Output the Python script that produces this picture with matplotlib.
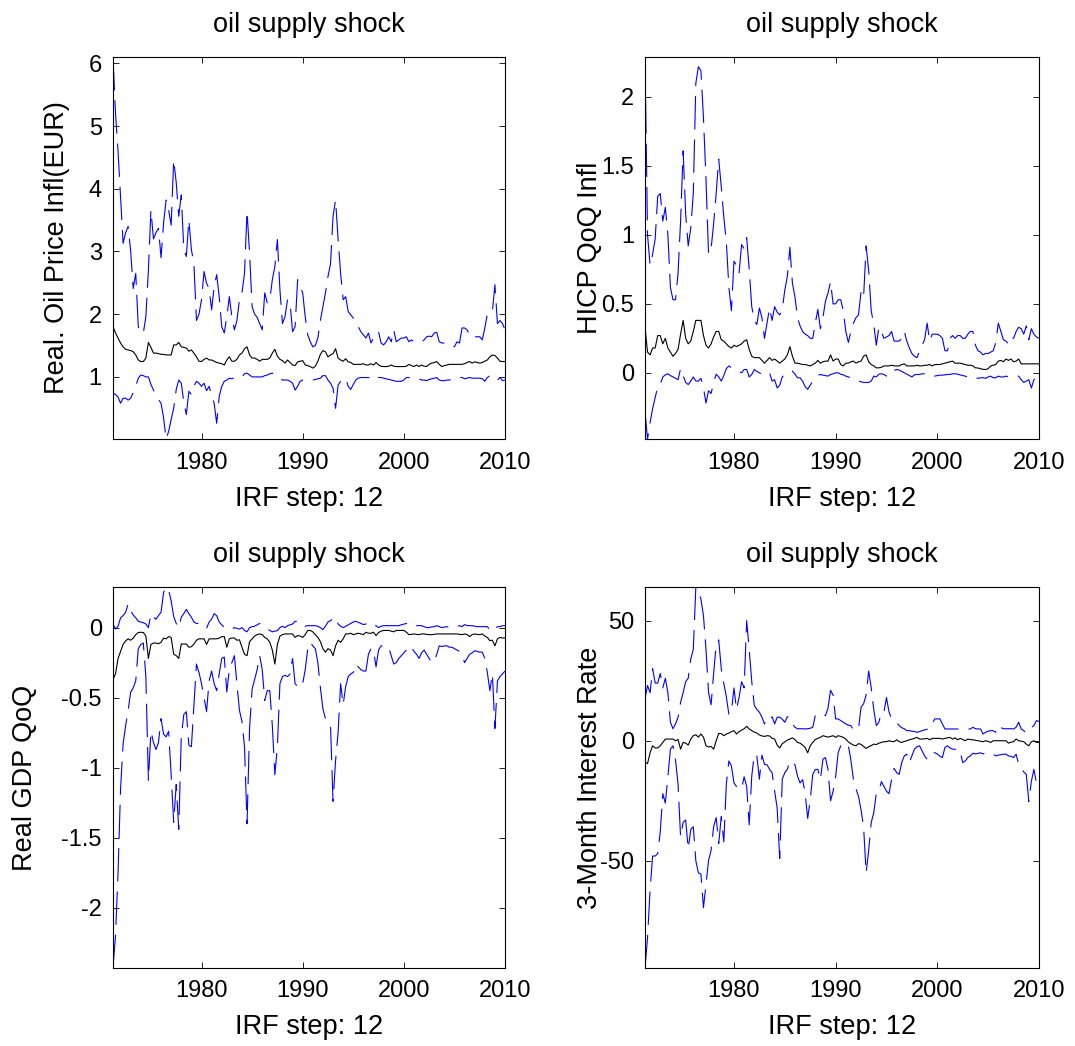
import numpy as np
import matplotlib
matplotlib.use("Agg")
import matplotlib.pyplot as plt

plt.rcParams['font.family'] = ['Liberation Sans', 'DejaVu Sans']

# quarterly dates 1971Q2 .. 2010Q1
start_year = 1971.25
n_quarters = 156
dates = start_year + 0.25 * np.arange(n_quarters)

panel_title = "oil supply shock"
x_label = "IRF step: 12"
x_ticks = [1980, 1990, 2000, 2010]

# ---------------- Panel 1: Real. Oil Price Infl(EUR) ----------------
oil_label = "Real. Oil Price Infl(EUR)"
oil_yticks = [1, 2, 3, 4, 5, 6]
oil_upper = [6.10, 5.2, 4.6, 3.88, 3.13, 3.3, 3.4, 3.0, 2.41, 2.65,
             1.8, 1.7, 1.7, 1.96, 2.7, 3.66, 3.2, 3.3, 3.37, 2.9,
             3.45, 3.82, 3.66, 3.42, 4.46, 4.1, 3.56, 3.9, 3.03, 2.92,
             3.5, 3.03, 2.8, 1.9, 2.0, 2.23, 2.68, 2.49, 2.41, 2.07,
             2.44, 2.63, 2.28, 1.8, 1.7, 1.96, 2.28, 1.96, 1.75, 1.9,
             2.23, 2.34, 2.65, 3.64, 2.97, 2.12, 2.0, 1.95, 1.85, 1.75,
             2.34, 2.18, 2.23, 2.55, 2.76, 3.19, 2.39, 1.85, 1.96, 2.23,
             2.18, 1.72, 1.8, 2.55, 2.44, 2.34, 1.96, 1.67, 1.56, 1.48,
             1.5, 1.62, 1.9, 2.12, 2.34, 2.6, 2.8, 3.56, 3.82, 3.19,
             2.65, 2.23, 2.28, 2.04, 1.99, 1.94, 1.88, 1.8, 1.72, 1.67,
             1.62, 1.7, 1.54, 1.62, 1.7, 1.72, 1.54, 1.51, 1.56, 1.64,
             1.56, 1.75, 1.56, 1.59, 1.62, 1.62, 1.64, 1.56, 1.59, 1.56,
             1.56, 1.56, 1.56, 1.59, 1.64, 1.65, 1.64, 1.7, 1.71, 1.56,
             1.54, 1.54, 1.54, 1.53, 1.51, 1.48, 1.56, 1.54, 1.78, 1.78,
             1.75, 1.67, 1.62, 1.64, 1.64, 1.64, 1.59, 1.78, 2.0, 2.0,
             2.04, 2.47, 1.85, 1.9, 1.85, 1.75]
oil_median = [1.80, 1.70, 1.62, 1.54, 1.48, 1.44, 1.43, 1.42, 1.40, 1.35,
              1.27, 1.245, 1.245, 1.30, 1.55, 1.47, 1.38, 1.38, 1.37, 1.36,
              1.36, 1.35, 1.35, 1.35, 1.51, 1.51, 1.55, 1.48, 1.47, 1.46,
              1.41, 1.43, 1.38, 1.32, 1.25, 1.245, 1.28, 1.30, 1.27, 1.27,
              1.25, 1.23, 1.22, 1.21, 1.19, 1.27, 1.32, 1.25, 1.25, 1.28,
              1.35, 1.38, 1.45, 1.48, 1.35, 1.30, 1.30, 1.28, 1.25, 1.28,
              1.28, 1.28, 1.30, 1.38, 1.44, 1.33, 1.28, 1.26, 1.22, 1.27,
              1.23, 1.19, 1.18, 1.24, 1.25, 1.26, 1.19, 1.18, 1.165, 1.14,
              1.17, 1.25, 1.36, 1.42, 1.40, 1.32, 1.35, 1.37, 1.45, 1.30,
              1.27, 1.25, 1.29, 1.24, 1.23, 1.20, 1.20, 1.20, 1.20, 1.21,
              1.19, 1.19, 1.21, 1.19, 1.23, 1.19, 1.17, 1.165, 1.165, 1.17,
              1.19, 1.17, 1.165, 1.165, 1.165, 1.165, 1.17, 1.20, 1.18, 1.165,
              1.19, 1.165, 1.19, 1.17, 1.165, 1.20, 1.22, 1.23, 1.245, 1.20,
              1.165, 1.18, 1.19, 1.20, 1.20, 1.20, 1.20, 1.20, 1.20, 1.21,
              1.23, 1.245, 1.22, 1.24, 1.23, 1.22, 1.23, 1.25, 1.27, 1.32,
              1.35, 1.34, 1.30, 1.25, 1.245, 1.245]
oil_lower = [0.74, 0.72, 0.68, 0.58, 0.66, 0.66, 0.63, 0.66, 0.75, 0.85,
             0.98, 1.03, 1.02, 1.0, 1.0, 0.88, 0.79, 0.72, 0.64, 0.58,
             0.35, 0.01, 0.13, 0.32, 0.5, 0.8, 0.95, 0.9, 0.6, 0.4,
             0.77, 0.72, 0.85, 0.93, 0.9, 0.85, 0.9, 0.78, 0.85, 0.71,
             0.58, 0.26, 0.69, 0.85, 0.93, 0.95, 0.98, 0.97, 0.99, 1.0,
             1.0, 1.0, 1.05, 1.06, 1.03, 1.0, 1.0, 1.0, 1.0, 1.0,
             1.02, 1.03, 1.05, 1.06, 1.04, 1.02, 0.98, 0.95, 0.95, 0.95,
             0.93, 0.90, 0.79, 0.85, 0.93, 0.95, 0.96, 0.96, 0.95, 0.95,
             0.96, 0.97, 0.98, 1.02, 1.02, 0.95, 0.90, 0.82, 0.5, 0.87,
             0.93, 0.96, 0.98, 0.85, 0.80, 0.88, 0.95, 0.98, 0.99, 0.99,
             0.99, 0.99, 0.99, 0.99, 1.02, 0.99, 0.99, 0.98, 0.97, 0.96,
             0.95, 0.94, 0.93, 0.93, 0.93, 0.95, 0.99, 0.99, 0.99, 0.98,
             0.98, 0.97, 0.95, 0.95, 0.94, 0.96, 0.97, 0.98, 0.99, 0.95,
             0.94, 0.94, 0.95, 0.95, 0.97, 0.98, 0.99, 0.99, 0.99, 0.97,
             0.98, 0.99, 0.98, 0.98, 0.98, 0.98, 0.97, 0.93, 0.99, 1.02,
             1.01, 1.0, 0.95, 0.99, 0.94, 0.95]

# ---------------- Panel 2: HICP QoQ Infl ----------------
hicp_label = "HICP QoQ Infl"
hicp_yticks = [0, 0.5, 1, 1.5, 2]
hicp_upper = [2.29, 1.0, 0.78, 0.86, 0.97, 1.28, 1.30, 1.10, 1.20, 1.0,
              0.62, 0.53, 0.53, 0.72, 1.1, 1.61, 1.15, 0.92, 1.05, 1.3,
              2.1, 2.22, 2.19, 1.85, 1.4, 0.86, 0.9, 1.08, 1.3, 1.55,
              1.35, 1.13, 0.95, 0.62, 0.45, 0.81, 0.78, 0.72, 0.93, 0.9,
              0.98, 0.75, 0.48, 0.38, 0.35, 0.47, 0.40, 0.25, 0.36, 0.47,
              0.38, 0.48, 0.44, 0.42, 0.46, 0.6, 0.7, 0.91, 0.65, 0.55,
              0.40, 0.34, 0.30, 0.28, 0.27, 0.25, 0.25, 0.36, 0.46, 0.32,
              0.40, 0.52, 0.58, 0.66, 0.5, 0.5, 0.53, 0.53, 0.45, 0.30,
              0.22, 0.30, 0.36, 0.40, 0.42, 0.59, 0.55, 0.92, 0.74, 0.45,
              0.35, 0.2, 0.33, 0.30, 0.25, 0.26, 0.27, 0.3, 0.23, 0.23,
              0.23, 0.25, 0.30, 0.23, 0.18, 0.14, 0.12, 0.11, 0.16, 0.20,
              0.24, 0.36, 0.23, 0.28, 0.28, 0.28, 0.27, 0.25, 0.16, 0.16,
              0.25, 0.27, 0.25, 0.27, 0.27, 0.25, 0.25, 0.28, 0.30, 0.30,
              0.20, 0.16, 0.15, 0.13, 0.14, 0.14, 0.15, 0.16, 0.22, 0.36,
              0.30, 0.24, 0.23, 0.21, 0.26, 0.25, 0.30, 0.33, 0.32, 0.28,
              0.34, 0.24, 0.32, 0.28, 0.26, 0.25]
hicp_median = [0.33, 0.15, 0.13, 0.18, 0.18, 0.27, 0.27, 0.21, 0.25, 0.18,
               0.15, 0.12, 0.14, 0.17, 0.28, 0.38, 0.25, 0.21, 0.23, 0.30,
               0.38, 0.38, 0.38, 0.27, 0.20, 0.18, 0.21, 0.26, 0.30, 0.30,
               0.24, 0.23, 0.21, 0.19, 0.18, 0.20, 0.19, 0.20, 0.21, 0.23,
               0.24, 0.17, 0.12, 0.11, 0.11, 0.11, 0.09, 0.07, 0.09, 0.11,
               0.09, 0.10, 0.085, 0.07, 0.085, 0.10, 0.13, 0.19, 0.12, 0.07,
               0.07, 0.065, 0.06, 0.06, 0.055, 0.05, 0.06, 0.07, 0.09, 0.07,
               0.08, 0.085, 0.085, 0.13, 0.085, 0.10, 0.10, 0.06, 0.05, 0.07,
               0.07, 0.08, 0.085, 0.07, 0.08, 0.085, 0.12, 0.13, 0.08, 0.06,
               0.05, 0.036, 0.036, 0.04, 0.05, 0.05, 0.05, 0.055, 0.05, 0.05,
               0.05, 0.06, 0.065, 0.05, 0.05, 0.05, 0.05, 0.055, 0.05, 0.05,
               0.055, 0.055, 0.06, 0.05, 0.06, 0.06, 0.06, 0.065, 0.07, 0.075,
               0.08, 0.085, 0.07, 0.07, 0.07, 0.065, 0.06, 0.055, 0.055, 0.05,
               0.036, 0.035, 0.03, 0.025, 0.024, 0.03, 0.05, 0.055, 0.06, 0.085,
               0.09, 0.08, 0.10, 0.09, 0.10, 0.08, 0.085, 0.10, 0.065, 0.065,
               0.065, 0.065, 0.065, 0.065, 0.065, 0.065]
hicp_lower = [-0.28, -0.48, -0.36, -0.26, -0.18, -0.10, -0.085, -0.03, -0.015, -0.007,
              -0.02, -0.03, -0.04, -0.05, 0.03, -0.02, -0.07, -0.085, -0.06, -0.03,
              -0.06, -0.06, -0.04, -0.11, -0.22, -0.13, -0.15, -0.07, -0.01, -0.03,
              -0.06, -0.02, 0.03, 0.05, 0.036, 0.03, 0.02, 0.01, 0.0, 0.024,
              0.024, -0.03, -0.012, 0.024, 0.01, 0.0, -0.01, -0.012, -0.005, 0.0,
              -0.06, -0.05, -0.11, -0.09, -0.03, -0.01, 0.0, 0.005, 0.012, -0.01,
              -0.036, -0.036, -0.06, -0.10, -0.12, -0.09, -0.06, -0.04, -0.02, -0.012,
              -0.017, -0.02, -0.024, -0.012, -0.007, 0.0, 0.0, -0.01, -0.015, -0.024,
              -0.03, -0.036, -0.04, -0.05, -0.06, -0.065, -0.07, -0.07, -0.07, -0.06,
              -0.024, -0.03, -0.01, -0.007, -0.012, -0.024, -0.024, 0.0, 0.017, 0.024,
              0.02, 0.01, 0.0, -0.01, -0.02, -0.03, -0.015, -0.012, -0.012, -0.007,
              -0.007, -0.007, -0.007, -0.015, -0.024, -0.02, -0.017, -0.017, -0.015, -0.012,
              -0.012, -0.007, -0.007, -0.01, -0.015, -0.02, -0.024, -0.03, -0.036, -0.03,
              -0.036, -0.04, -0.036, -0.036, -0.04, -0.03, -0.024, -0.036, -0.036, -0.024,
              -0.03, -0.03, -0.024, -0.03, -0.024, -0.024, -0.024, -0.024, -0.05, -0.07,
              -0.06, -0.05, -0.11, -0.05, -0.036, -0.055]

# ---------------- Panel 3: Real GDP QoQ ----------------
gdp_label = "Real GDP QoQ"
gdp_yticks = [-2, -1.5, -1, -0.5, 0]
gdp_upper = [0.026, -0.01, 0.01, 0.07, 0.086, 0.11, 0.17, 0.12, 0.09, 0.07,
             0.045, 0.04, 0.035, 0.026, 0.0, 0.10, 0.074, 0.06, 0.086, 0.11,
             0.25, 0.29, 0.27, 0.19, 0.08, 0.03, 0.0, 0.074, 0.10, 0.13,
             0.10, 0.074, 0.04, 0.03, 0.03, 0.026, 0.015, -0.005, 0.04, 0.06,
             0.10, 0.085, 0.04, 0.02, 0.0, -0.01, -0.01, -0.01, 0.0, -0.005,
             -0.01, 0.0, -0.02, -0.03, 0.0, 0.007, 0.01, 0.02, 0.03, 0.014,
             0.0, -0.01, -0.02, -0.03, -0.025, -0.022, 0.0, 0.01, 0.0, 0.014,
             0.02, 0.026, 0.045, 0.045, 0.045, 0.02, 0.01, 0.014, 0.014, 0.014,
             0.014, 0.01, 0.0, -0.014, 0.01, 0.04, 0.05, 0.06, 0.074, 0.026,
             0.01, 0.0, 0.01, 0.02, 0.03, 0.04, 0.045, 0.038, 0.03, 0.022,
             0.026, 0.014, 0.02, 0.007, 0.014, 0.0, 0.01, 0.014, 0.014, 0.014,
             0.014, 0.014, 0.014, 0.014, 0.02, 0.025, 0.03, 0.022, 0.014, 0.007,
             0.014, 0.014, 0.014, 0.007, 0.0, 0.0, 0.005, 0.007, 0.014, 0.007,
             0.0, 0.004, 0.007, 0.0, -0.002, 0.004, 0.007, 0.014, 0.007, 0.022,
             0.014, 0.014, 0.014, 0.01, 0.007, 0.007, 0.007, 0.007, 0.007, -0.017,
             0.0, -0.01, 0.007, 0.007, 0.014, 0.014]
gdp_median = [-0.37, -0.33, -0.22, -0.17, -0.12, -0.095, -0.08, -0.09, -0.075, -0.05,
              -0.035, -0.033, -0.035, -0.06, -0.22, -0.12, -0.11, -0.11, -0.115, -0.105,
              -0.075, -0.08, -0.064, -0.07, -0.19, -0.20, -0.22, -0.117, -0.117, -0.117,
              -0.14, -0.136, -0.117, -0.09, -0.08, -0.08, -0.08, -0.12, -0.08, -0.08,
              -0.08, -0.08, -0.075, -0.064, -0.064, -0.14, -0.08, -0.074, -0.074, -0.09,
              -0.087, -0.14, -0.19, -0.20, -0.10, -0.08, -0.06, -0.05, -0.045, -0.05,
              -0.07, -0.08, -0.105, -0.16, -0.26, -0.12, -0.06, -0.05, -0.045, -0.045,
              -0.045, -0.045, -0.07, -0.057, -0.06, -0.07, -0.05, -0.02, -0.02, -0.03,
              -0.05, -0.07, -0.10, -0.15, -0.176, -0.15, -0.16, -0.20, -0.13, -0.09,
              -0.105, -0.08, -0.045, -0.045, -0.04, -0.05, -0.045, -0.04, -0.045, -0.05,
              -0.033, -0.04, -0.04, -0.033, -0.057, -0.035, -0.025, -0.02, -0.02, -0.02,
              -0.025, -0.03, -0.02, -0.02, -0.02, -0.02, -0.033, -0.05, -0.048, -0.045,
              -0.048, -0.05, -0.045, -0.045, -0.048, -0.05, -0.05, -0.048, -0.045, -0.045,
              -0.045, -0.045, -0.045, -0.045, -0.045, -0.045, -0.045, -0.048, -0.05, -0.045,
              -0.05, -0.064, -0.05, -0.045, -0.048, -0.05, -0.045, -0.06, -0.07, -0.093,
              -0.09, -0.13, -0.08, -0.07, -0.074, -0.074]
gdp_lower = [-2.43, -2.2, -1.75, -1.15, -0.83, -0.70, -0.59, -0.46, -0.43, -0.38,
             -0.15, -0.12, -0.11, -0.35, -1.09, -0.74, -0.82, -0.87, -0.82, -0.65,
             -0.76, -0.78, -0.74, -1.05, -1.39, -1.12, -1.44, -0.78, -0.62, -0.60,
             -0.84, -0.85, -0.55, -0.26, -0.32, -0.40, -0.50, -0.60, -0.38, -0.31,
             -0.40, -0.45, -0.33, -0.22, -0.21, -0.46, -0.30, -0.25, -0.20, -0.40,
             -0.59, -0.67, -0.85, -1.40, -0.72, -0.44, -0.37, -0.30, -0.20, -0.30,
             -0.52, -0.45, -0.45, -0.70, -1.05, -0.85, -0.40, -0.35, -0.34, -0.35,
             -0.33, -0.22, -0.40, -0.42, -0.43, -0.40, -0.30, -0.15, -0.105, -0.13,
             -0.15, -0.25, -0.43, -0.58, -0.65, -0.67, -0.70, -1.24, -0.95, -0.75,
             -0.40, -0.55, -0.42, -0.35, -0.33, -0.32, -0.26, -0.28, -0.30, -0.31,
             -0.31, -0.19, -0.15, -0.16, -0.28, -0.16, -0.13, -0.13, -0.13, -0.14,
             -0.20, -0.26, -0.25, -0.22, -0.20, -0.18, -0.16, -0.13, -0.14, -0.17,
             -0.19, -0.22, -0.18, -0.16, -0.19, -0.22, -0.25, -0.24, -0.19, -0.13,
             -0.135, -0.13, -0.13, -0.14, -0.14, -0.15, -0.16, -0.17, -0.19, -0.25,
             -0.22, -0.19, -0.18, -0.165, -0.17, -0.175, -0.175, -0.22, -0.32, -0.45,
             -0.33, -0.72, -0.38, -0.35, -0.33, -0.31]

# ---------------- Panel 4: 3-Month Interest Rate ----------------
rate_label = "3-Month Interest Rate"
rate_yticks = [-50, 0, 50]
rate_upper = [17.6, 23, 20, 30, 24, 24, 28, 22, 26, 20,
              7.7, 5, 7, 9.8, 16, 20, 24.6, 26, 34, 38,
              64, 62, 59, 52, 38, 20, 15, 28, 40, 42,
              30, 23.9, 18.3, 11, 12, 22, 13, 18, 24.6, 22,
              50, 38, 24.6, 14.7, 13, 11.9, 9.8, 7, 9.1, 8.4,
              10, 7, 9.8, 9.8, 9, 7.7, 10, 9.8, 7, 5.6,
              5, 5, 5, 4.9, 5, 5.2, 5.6, 10.5, 11.2, 10.5,
              10.5, 10.5, 13.6, 21, 19, 9.1, 9.1, 8.4, 7.7, 7,
              6.5, 6.3, 4.5, 4.5, 5, 14, 15.4, 19, 29, 22,
              13, 6.3, 7.7, 12, 11.9, 18, 12, 9.1, 8.5, 7.7,
              6.3, 5.4, 5, 4.2, 4.2, 4, 3.8, 3.5, 3.8, 4.2,
              4.5, 4.8, 4.9, 7, 9.1, 9.1, 9.1, 7, 4.9, 4.9,
              4.9, 4.9, 4.9, 4.9, 4.9, 4.9, 4.9, 4.9, 4.9, 5.6,
              5, 4.9, 4.9, 2.8, 3.5, 4, 4.2, 4.2, 3.5, 6.3,
              5.5, 5, 5, 5, 5, 4.9, 5.6, 7.7, 4.9, 4.2,
              3.2, 4.2, 5.5, 6.3, 8.4, 8]
rate_median = [-9.1, -9.5, -5, -2.1, -3, -3, -2.1, -0.7, 0.7, 0.7,
               0.7, 0.7, 0, 0.5, -3.5, -0.7, -1, -1.8, 0.7, 2.1,
               2.5, 1.5, 2.8, 1.5, -2.1, -2.6, -2.4, -3.5, 0.0, 3.0,
               3.0, 2.1, 2.8, 3.2, 3.8, 4.2, 2.8, 3.8, 4.4, 5,
               6, 4.9, 4.2, 3.6, 3.2, 2.4, 2.0, 1.8, 2.1, 2.0,
               1, 0.7, -1.8, -3, -1.2, -0.5, 0.3, 0.7, 1.2, 0.5,
               -0.7, -1, -1.8, -2.8, -5, -2.1, -0.7, 0.5, 1.0, 1.4,
               2.1, 1.8, 1.5, 1.8, 2.1, 1.4, 2.1, 1.8, 1.4, 0.7,
               -0.5, -1.2, -1.8, -2.1, -1.2, -1.5, -2.4, -3.2, -2.5, -2.0,
               -1.4, -1.6, -1.0, -0.7, -0.4, -0.4, 0, -0.3, -0.4, 0.4,
               -0.4, -0.7, -0.3, 0, 0.4, 0.7, 1.0, 1.4, 0.7, 0.7,
               0.8, 1.0, 0.4, 1.0, 1.0, 1.0, 1.0, 0.7, 1.0, 1.2,
               1.4, 0.7, 1.2, 0.4, 1.0, 0.5, 0, 0.7, 0.5, 0.4,
               0.2, 0, -0.2, -0.4, 0, -0.3, -0.7, 0, 0, 0,
               0, 0, 0, -1, -0.6, -0.4, 0.7, 0, -0.2, -0.4,
               -1.4, -2.1, -0.4, 0, -0.7, -0.7]
rate_lower = [-94.6, -82, -62, -48, -48, -47, -38, -22, -26, -15,
              -3.5, -2.1, -8, -18, -40, -34, -33, -45, -37, -35.8,
              -50, -55, -55.5, -69.5, -59.7, -49.9, -45.6, -35.8, -32, -42.8,
              -31.6, -42.1, -18, -8.4, -10.5, -17.6, -19, -20, -20, -15,
              -19, -35, -14.7, -5.6, -6.3, -16, -6, -9.8, -10, -11.9,
              -13.3, -21, -28, -49, -16, -13.3, -11.9, -8.4, -9, -10,
              -14.7, -17.6, -16.2, -21.8, -32.3, -24.6, -14, -12, -11.9, -16.2,
              -7.7, -7, -12, -25, -21, -15, -4.9, -2.1, -1.4, -2.5,
              -2.1, -8, -16.2, -20, -23.2, -28.8, -36, -55, -45.6, -34,
              -30, -21.8, -21, -17, -19, -21, -22, -16.2, -11.5, -13.3,
              -14, -9.1, -6.3, -5.6, -9.1, -6.3, -3.5, -2.5, -2.1, -4.2,
              -6.3, -7.7, -6.5, -4.9, -5, -5.5, -6.5, -7, -2.8, -2.1,
              -3.0, -3.5, -3.5, -4.9, -4.5, -9.1, -8.4, -7, -6.3, -5.2,
              -5.5, -5.3, -5, -5.5, -5, -5.5, -5.6, -5.6, -6.3, -6,
              -5.8, -5.6, -5.6, -6.3, -6.5, -7, -5.6, -9.8, -11.2, -13,
              -14, -25.3, -16.9, -11.9, -17.6, -18.3]

panels = [
    (oil_label, oil_yticks, oil_upper, oil_median, oil_lower),
    (hicp_label, hicp_yticks, hicp_upper, hicp_median, hicp_lower),
    (gdp_label, gdp_yticks, gdp_upper, gdp_median, gdp_lower),
    (rate_label, rate_yticks, rate_upper, rate_median, rate_lower),
]

for p in panels:
    for s in p[2:]:
        assert len(s) == n_quarters, (p[0], len(s))

fig = plt.figure(figsize=(10.75, 10.46), dpi=100)
positions = [
    [0.1051, 0.5803, 0.3647, 0.3652],
    [0.6000, 0.5803, 0.3665, 0.3652],
    [0.1051, 0.0746, 0.3647, 0.3642],
    [0.6000, 0.0746, 0.3665, 0.3642],
]
# x position (axes fraction) of the right edge of each rotated y label
ylabel_x = [-0.110, -0.107, -0.191, -0.107]

dash = (0, (30, 9))
for pos, lx, (label, yticks, up, med, lo) in zip(positions, ylabel_x, panels):
    ax = fig.add_axes(pos)
    ax.plot(dates, up, color='#0000ff', lw=0.8, linestyle=dash)
    ax.plot(dates, med, color='black', lw=0.8)
    ax.plot(dates, lo, color='#0000ff', lw=0.8, linestyle=dash)
    ax.set_xlim(dates[0], dates[-1])
    ax.set_ylim(min(lo), max(up))
    ax.set_xticks(x_ticks)
    ax.set_yticks(yticks)
    ax.set_yticklabels(["%g" % t for t in yticks])
    ax.tick_params(direction='in', top=True, right=True, length=4,
                   width=0.6, labelsize=17)
    ax.tick_params(axis='x', pad=9)
    ax.tick_params(axis='y', pad=8)
    for sp in ax.spines.values():
        sp.set_linewidth(0.8)
    ax.set_title(panel_title, fontsize=19.5, pad=18)
    ax.set_xlabel(x_label, fontsize=19.5)
    ax.set_ylabel(label, fontsize=19.5)
    ax.xaxis.set_label_coords(0.5, -0.122)
    ax.yaxis.set_label_coords(lx, 0.5)

fig.savefig("out.png", dpi=100)
